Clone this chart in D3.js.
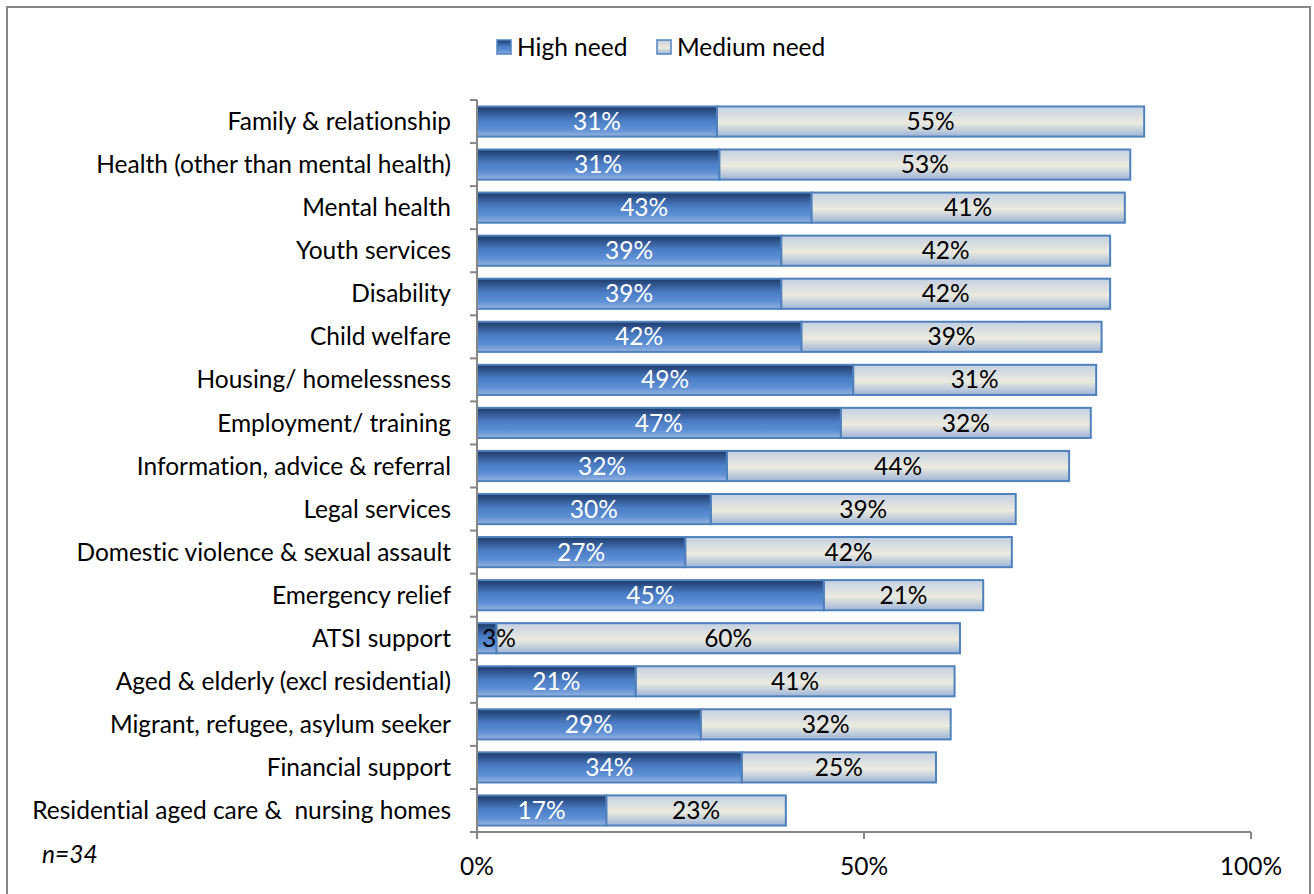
<!DOCTYPE html>
<html>
<head>
<meta charset="utf-8">
<script src="https://cdn.jsdelivr.net/npm/d3@7"></script>
<style>
  body { margin: 0; background: #fff; }
  svg { display: block; font-family: Lato, "Open Sans", sans-serif; font-variant-ligatures: none; }
</style>
</head>
<body>
<div id="chart"></div>
<script>
const categories = [
    "Family & relationship",
    "Health (other than mental health)",
    "Mental health",
    "Youth services",
    "Disability",
    "Child welfare",
    "Housing/ homelessness",
    "Employment/ training",
    "Information, advice & referral",
    "Legal services",
    "Domestic violence & sexual assault",
    "Emergency relief",
    "ATSI support",
    "Aged & elderly (excl residential)",
    "Migrant, refugee, asylum seeker",
    "Financial support",
    "Residential aged care &  nursing homes"
];
// values (labels are rounded)
const highNeed = [31.0, 31.3, 43.2, 39.3, 39.3, 41.9, 48.6, 47.0, 32.3, 30.2, 26.9, 44.8, 2.5, 20.5, 28.9, 34.2, 16.7];
const mediumNeed = [55.2, 53.1, 40.5, 42.5, 42.5, 38.8, 31.4, 32.3, 44.2, 39.4, 42.2, 20.6, 59.9, 41.2, 32.3, 25.1, 23.2];
const highLabels = ["31%", "31%", "43%", "39%", "39%", "42%", "49%", "47%", "32%", "30%", "27%", "45%", "3%", "21%", "29%", "34%", "17%"];
const mediumLabels = ["55%", "53%", "41%", "42%", "42%", "39%", "31%", "32%", "44%", "39%", "42%", "21%", "60%", "41%", "32%", "25%", "23%"];
const seriesNames = ["High need", "Medium need"];
const xTicks = [0, 50, 100];

function renderGraph() {
    const width = 1314;
    const height = 894;
    const plot = { left: 477, right: 1251, top: 100, bottom: 832 };
    const fs = 24.5;

    const svg = d3.select('#chart')
        .append('svg')
        .attr('width', width)
        .attr('height', height);

    const defs = svg.append('defs');
    const gHigh = defs.append('linearGradient').attr('id', 'gHigh')
        .attr('x1', 0).attr('y1', 0).attr('x2', 0).attr('y2', 1);
    gHigh.append('stop').attr('offset', '0%').attr('stop-color', '#1d3a68');
    gHigh.append('stop').attr('offset', '45%').attr('stop-color', '#4a7cc4');
    gHigh.append('stop').attr('offset', '75%').attr('stop-color', '#5d8fd4');
    gHigh.append('stop').attr('offset', '100%').attr('stop-color', '#96b4df');

    const gMed = defs.append('linearGradient').attr('id', 'gMed')
        .attr('x1', 0).attr('y1', 0).attr('x2', 0).attr('y2', 1);
    gMed.append('stop').attr('offset', '0%').attr('stop-color', '#c3d0e3');
    gMed.append('stop').attr('offset', '55%').attr('stop-color', '#ecebdf');
    gMed.append('stop').attr('offset', '100%').attr('stop-color', '#9cb4d8');

    // outer frame
    svg.append('rect')
        .attr('x', 7).attr('y', 7)
        .attr('width', 1303).attr('height', 900)
        .attr('fill', 'none')
        .attr('stroke', '#868686')
        .attr('stroke-width', 2);

    const x = d3.scaleLinear().domain([0, 100]).range([plot.left, plot.right]);
    const y = d3.scaleBand().domain(categories).range([plot.top, plot.bottom]).paddingInner(0.3).paddingOuter(0.15);

    const rows = categories.map((c, i) => ({
        cat: c, high: highNeed[i], med: mediumNeed[i], hl: highLabels[i], ml: mediumLabels[i]
    }));

    const bars = svg.append('g');
    // medium segments
    bars.selectAll('rect.med')
        .data(rows)
        .enter()
        .append('rect')
        .attr('class', 'med')
        .attr('x', d => x(d.high))
        .attr('y', d => y(d.cat))
        .attr('width', d => x(d.high + d.med) - x(d.high))
        .attr('height', y.bandwidth())
        .attr('fill', 'url(#gMed)')
        .attr('stroke', '#4f81bd')
        .attr('stroke-width', 2);
    // high segments
    bars.selectAll('rect.high')
        .data(rows)
        .enter()
        .append('rect')
        .attr('class', 'high')
        .attr('x', x(0))
        .attr('y', d => y(d.cat))
        .attr('width', d => x(d.high) - x(0))
        .attr('height', y.bandwidth())
        .attr('fill', 'url(#gHigh)')
        .attr('stroke', '#4f81bd')
        .attr('stroke-width', 2);

    // data labels (a tiny segment gets its label pushed right, like Excel)
    bars.selectAll('text.hl')
        .data(rows)
        .enter()
        .append('text')
        .attr('class', 'hl')
        .attr('x', d => d.high < 5 ? x(0) + 5 : (x(0) + x(d.high)) / 2)
        .attr('y', d => y(d.cat) + y.bandwidth() / 2)
        .attr('dy', '0.35em')
        .attr('text-anchor', d => d.high < 5 ? 'start' : 'middle')
        .attr('font-size', fs)
        .attr('fill', d => d.high < 5 ? '#000' : '#fff')
        .text(d => d.hl);
    bars.selectAll('text.ml')
        .data(rows)
        .enter()
        .append('text')
        .attr('class', 'ml')
        .attr('x', d => (x(d.high) + x(d.high + d.med)) / 2)
        .attr('y', d => y(d.cat) + y.bandwidth() / 2)
        .attr('dy', '0.35em')
        .attr('text-anchor', 'middle')
        .attr('font-size', fs)
        .attr('fill', '#000')
        .text(d => d.ml);

    // y axis
    const yAxis = svg.append('g')
        .attr('transform', `translate(${plot.left},0)`);
    yAxis.append('line')
        .attr('y1', plot.top).attr('y2', plot.bottom)
        .attr('stroke', '#868686').attr('stroke-width', 2);
    const edges = d3.range(categories.length + 1).map(i => plot.top + i * (plot.bottom - plot.top) / categories.length);
    yAxis.selectAll('line.tk')
        .data(edges)
        .enter()
        .append('line')
        .attr('x1', -7).attr('x2', 0)
        .attr('y1', d => d).attr('y2', d => d)
        .attr('stroke', '#868686').attr('stroke-width', 2);
    yAxis.selectAll('text')
        .data(categories)
        .enter()
        .append('text')
        .attr('x', -26)
        .attr('y', d => y(d) + y.bandwidth() / 2)
        .attr('dy', '0.35em')
        .attr('text-anchor', 'end')
        .attr('font-size', fs)
        .attr('fill', '#000')
        .attr('xml:space', 'preserve')
        .text(d => d);

    // x axis
    const xAxis = svg.append('g')
        .attr('transform', `translate(0,${plot.bottom})`);
    xAxis.append('line')
        .attr('x1', plot.left).attr('x2', plot.right)
        .attr('stroke', '#868686').attr('stroke-width', 2);
    xAxis.selectAll('line.tk')
        .data(xTicks)
        .enter()
        .append('line')
        .attr('x1', d => x(d)).attr('x2', d => x(d))
        .attr('y1', 0).attr('y2', 7)
        .attr('stroke', '#868686').attr('stroke-width', 2);
    xAxis.selectAll('text')
        .data(xTicks)
        .enter()
        .append('text')
        .attr('x', d => x(d))
        .attr('y', 43)
        .attr('text-anchor', 'middle')
        .attr('font-size', fs)
        .attr('fill', '#000')
        .text(d => d + '%');

    // n label
    svg.append('text')
        .attr('x', 42).attr('y', 863)
        .attr('font-size', fs)
        .attr('font-style', 'italic')
        .text('n=34');

    // legend
    const legend = svg.append('g').attr('transform', 'translate(497,47)');
    const legendX = [0, 160];
    const grads = ['url(#gHigh)', 'url(#gMed)'];
    seriesNames.forEach((name, i) => {
        const g = legend.append('g').attr('transform', `translate(${legendX[i]},0)`);
        g.append('rect')
            .attr('x', 0).attr('y', -7)
            .attr('width', 14).attr('height', 14)
            .attr('fill', grads[i])
            .attr('stroke', '#4f81bd').attr('stroke-width', 1.5);
        g.append('text')
            .attr('x', 20).attr('y', 0)
            .attr('dy', '0.35em')
            .attr('font-size', fs)
            .text(name);
    });
}

renderGraph();
</script>
</body>
</html>
